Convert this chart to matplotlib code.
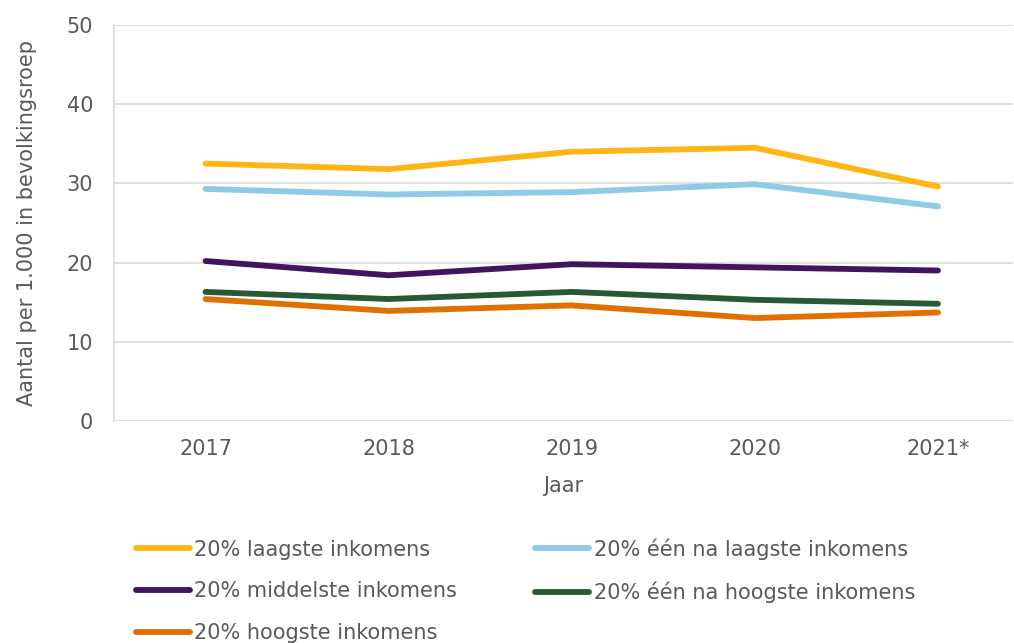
import matplotlib.pyplot as plt

# gegevens
jaren = ["2017", "2018", "2019", "2020", "2021*"]
laagste = [32.5, 31.8, 34.0, 34.5, 29.6]
een_na_laagste = [29.3, 28.6, 28.9, 29.9, 27.1]
middelste = [20.2, 18.4, 19.8, 19.4, 19.0]
een_na_hoogste = [16.3, 15.4, 16.3, 15.3, 14.8]
hoogste = [15.4, 13.9, 14.6, 13.0, 13.7]

labels = ["20% laagste inkomens", "20% één na laagste inkomens",
          "20% middelste inkomens", "20% één na hoogste inkomens",
          "20% hoogste inkomens"]
reeksen = [laagste, een_na_laagste, middelste, een_na_hoogste, hoogste]
kleuren = ["#FFB612", "#8FCAE7", "#42145F", "#275937", "#E17000"]

grijs = "#595959"
fs = 15
plt.rcParams['font.family'] = ['DejaVu Sans']

fig = plt.figure(figsize=(10.14, 6.43), dpi=100)
ax = fig.add_axes([114 / 1014, 1 - 421 / 643, 899 / 1014, 396 / 643])

x = range(len(jaren))
lijnen = []
for r, k, l in zip(reeksen, kleuren, labels):
    h, = ax.plot(x, r, color=k, linewidth=4.2, label=l,
                 solid_capstyle='round', solid_joinstyle='miter')
    lijnen.append(h)

ax.set_ylim(0, 50)
ax.set_yticks(range(0, 51, 10))
ax.set_xlim(-0.5, 4.41)
ax.set_xticks(list(x))
ax.set_xticklabels(jaren)
ax.grid(axis='y', color='#D9D9D9', linewidth=1.2)
ax.set_axisbelow(True)
for s in ['top', 'right', 'bottom']:
    ax.spines[s].set_visible(False)
ax.spines['left'].set_color('#D9D9D9')
ax.spines['left'].set_linewidth(1.2)
ax.tick_params(length=0, labelsize=fs, colors=grijs)
ax.tick_params(axis='x', pad=13)
ax.tick_params(axis='y', pad=15)

ax.set_xlabel("Jaar", fontsize=fs, color=grijs, labelpad=12)
ax.set_ylabel("Aantal per 1.000 in bevolkingsroep", fontsize=fs, color=grijs)
ax.yaxis.set_label_coords(-0.086, 0.5)

# legenda onderaan, rij voor rij (matplotlib vult per kolom)
volgorde = [0, 2, 4, 1, 3]
leg = fig.legend(handles=[lijnen[i] for i in volgorde], loc='upper left',
                 ncol=2, bbox_to_anchor=(136 / 1014, 1 - 538 / 643),
                 frameon=False, fontsize=fs, handlelength=2.6,
                 handletextpad=0.2, labelspacing=1.05, columnspacing=3.75,
                 borderpad=0, borderaxespad=0, labelcolor=grijs)

fig.savefig("out.png", dpi=100)
